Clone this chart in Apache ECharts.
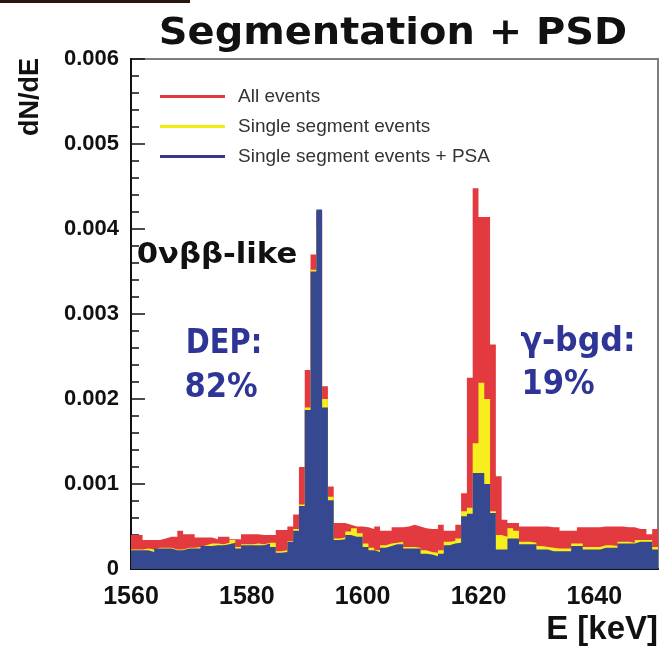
<!DOCTYPE html>
<html>
<head>
<meta charset="utf-8">
<script src="https://cdn.jsdelivr.net/npm/echarts@6/dist/echarts.min.js"></script>
<style>
html,body{margin:0;padding:0;background:#fff;}
#chart{width:663px;height:657px;}
</style>
</head>
<body>
<div id="chart"></div>
<script>
// Histogram: 1 keV bins starting at 1560 keV
const binStart = 1560;
const binWidth = 1;
const xMax = 1651;
const xTicks = [1560, 1580, 1600, 1620, 1640];

const allEvents = [
  0.00040,0.00040,0.00034,0.00034,0.00034,0.00036,0.00038,0.00038,0.00045,0.00041,
  0.00041,0.00037,0.00037,0.00037,0.00035,0.00038,0.00038,0.00035,0.00035,0.00041,
  0.00041,0.00041,0.00040,0.00040,0.00040,0.00046,0.00046,0.00050,0.00064,0.00120,
  0.00234,0.00370,0.00420,0.00215,0.00097,0.00054,0.00054,0.00052,0.00050,0.00050,
  0.00049,0.00047,0.00050,0.00045,0.00045,0.00049,0.00049,0.00050,0.00052,0.00050,
  0.00048,0.00047,0.00047,0.00052,0.00045,0.00045,0.00052,0.00089,0.00225,0.00448,
  0.00414,0.00414,0.00264,0.00109,0.00058,0.00054,0.00054,0.00050,0.00050,0.00050,
  0.00050,0.00050,0.00049,0.00049,0.00045,0.00045,0.00045,0.00049,0.00049,0.00049,
  0.00049,0.00050,0.00050,0.00050,0.00050,0.00049,0.00049,0.00047,0.00047,0.00041,
  0.00047
];
const singleSegment = [
  0.00023,0.00023,0.00024,0.00023,0.00025,0.00025,0.00025,0.00023,0.00023,0.00025,
  0.00025,0.00026,0.00028,0.00030,0.00030,0.00029,0.00031,0.00034,0.00026,0.00029,
  0.00029,0.00030,0.00029,0.00031,0.00031,0.00021,0.00022,0.00033,0.00047,0.00076,
  0.00190,0.00352,0.00400,0.00200,0.00085,0.00036,0.00037,0.00044,0.00048,0.00042,
  0.00030,0.00025,0.00022,0.00028,0.00030,0.00031,0.00032,0.00026,0.00026,0.00025,
  0.00022,0.00020,0.00019,0.00022,0.00032,0.00033,0.00036,0.00068,0.00072,0.00148,
  0.00219,0.00200,0.00068,0.00040,0.00038,0.00048,0.00045,0.00032,0.00032,0.00031,
  0.00027,0.00026,0.00025,0.00024,0.00024,0.00024,0.00030,0.00030,0.00026,0.00026,
  0.00026,0.00028,0.00028,0.00027,0.00032,0.00032,0.00031,0.00034,0.00034,0.00034,
  0.00026
];
const singleSegmentPSA = [
  0.00022,0.00022,0.00022,0.00020,0.00024,0.00024,0.00024,0.00022,0.00022,0.00024,
  0.00024,0.00024,0.00027,0.00027,0.00028,0.00028,0.00029,0.00031,0.00024,0.00028,
  0.00028,0.00028,0.00028,0.00030,0.00026,0.00019,0.00020,0.00032,0.00045,0.00074,
  0.00187,0.00350,0.00423,0.00190,0.00081,0.00034,0.00035,0.00040,0.00038,0.00038,
  0.00026,0.00022,0.00020,0.00025,0.00027,0.00029,0.00029,0.00024,0.00024,0.00024,
  0.00018,0.00017,0.00015,0.00018,0.00028,0.00030,0.00031,0.00062,0.00065,0.00113,
  0.00113,0.00100,0.00066,0.00023,0.00023,0.00036,0.00036,0.00029,0.00029,0.00029,
  0.00023,0.00023,0.00021,0.00021,0.00021,0.00021,0.00027,0.00027,0.00023,0.00023,
  0.00023,0.00025,0.00025,0.00025,0.00030,0.00030,0.00030,0.00032,0.00032,0.00032,
  0.00023
];
const seriesNames = ['All events', 'Single segment events', 'Single segment events + PSA'];
const fillColors = ['#e23a3f', '#f7ee1e', '#36488f'];
const legendColors = ['#e0383e', '#f3ee10', '#3a358c'];

function stepData(vals) {
  const d = vals.map((v, i) => [binStart + i * binWidth, v]);
  d.push([binStart + vals.length * binWidth, vals[vals.length - 1]]);
  return d;
}

const chart = echarts.init(document.getElementById('chart'), null, {renderer: 'canvas'});
const allData = [allEvents, singleSegment, singleSegmentPSA];

const option = {
  animation: false,
  backgroundColor: '#ffffff',
  grid: {left: 131, right: 5, top: 59, bottom: 88, show: true, borderColor: '#7d7d7d', borderWidth: 2, backgroundColor: 'transparent'},
  xAxis: {
    type: 'value', min: binStart, max: xMax, interval: 20,
    axisLine: {show: true, onZero: false, lineStyle: {color: '#111', width: 2}},
    axisTick: {show: false},
    splitLine: {show: false},
    axisLabel: {
      margin: 16, fontSize: 25, fontWeight: 'bold', fontFamily: 'Liberation Sans', color: '#111',
      formatter: v => (xTicks.indexOf(v) >= 0 ? String(v) : '')
    }
  },
  yAxis: {
    type: 'value', min: 0, max: 0.006, interval: 0.001,
    axisLine: {show: true, lineStyle: {color: '#111', width: 2}},
    axisTick: {show: true, inside: true, length: 14, lineStyle: {color: '#111', width: 1.5}},
    minorTick: {show: true, splitNumber: 5, length: 8, lineStyle: {color: '#111', width: 1.5}},
    splitLine: {show: false},
    axisLabel: {
      margin: 12, fontSize: 22, fontWeight: 'bold', fontFamily: 'Liberation Sans', color: '#111',
      formatter: v => (v === 0 ? '0' : v.toFixed(3))
    }
  },
  legend: {
    orient: 'vertical', left: 155, top: 82, itemWidth: 65, itemHeight: 3, itemGap: 11,
    icon: 'rect',
    textStyle: {fontFamily: 'Liberation Sans', fontSize: 19, color: '#333', padding: [0, 0, 0, 8]},
    data: seriesNames.map((n, i) => ({name: n, itemStyle: {color: legendColors[i], opacity: 1}}))
  },
  series: allData.map((vals, i) => ({
    name: seriesNames[i],
    type: 'line',
    step: 'end',
    symbol: 'none',
    data: stepData(vals),
    lineStyle: {width: 0, opacity: 0},
    itemStyle: {color: legendColors[i]},
    areaStyle: {color: fillColors[i], opacity: 1},
    z: 2 + i
  })),
  graphic: [
    {type: 'rect', shape: {x: 0, y: 0, width: 190, height: 3}, style: {fill: '#2b1510'}},
    {type: 'text', x: 393, y: 34, scaleX: 1.05, style: {text: 'Segmentation + PSD', fontSize: 38, fontWeight: 'bold', fontFamily: 'DejaVu Sans', fill: '#111', align: 'center', verticalAlign: 'middle'}},
    {type: 'text', x: 31, y: 97, rotation: Math.PI / 2, style: {text: 'dN/dE', fontSize: 27, fontWeight: 'bold', fontFamily: 'Liberation Sans', fill: '#111', align: 'center', verticalAlign: 'middle'}},
    {type: 'text', x: 658, y: 630, style: {text: 'E [keV]', fontSize: 33, fontWeight: 'bold', fontFamily: 'Liberation Sans', fill: '#111', align: 'right', verticalAlign: 'middle'}, z: 10},
    {type: 'text', x: 217, y: 255, scaleX: 1.06, style: {text: '0νββ-like', fontSize: 29, fontWeight: 'bold', fontFamily: 'DejaVu Sans', fill: '#111', align: 'center', verticalAlign: 'middle'}, z: 10},
    {type: 'text', x: 224, y: 344, scaleX: 0.85, style: {text: 'DEP:', fontSize: 34, fontWeight: 'bold', fontFamily: 'DejaVu Sans', fill: '#2f3596', align: 'center', verticalAlign: 'middle'}, z: 10},
    {type: 'text', x: 221, y: 388, scaleX: 0.9, style: {text: '82%', fontSize: 34, fontWeight: 'bold', fontFamily: 'DejaVu Sans', fill: '#2f3596', align: 'center', verticalAlign: 'middle'}, z: 10},
    {type: 'text', x: 578, y: 342, scaleX: 0.93, style: {text: 'γ-bgd:', fontSize: 34, fontWeight: 'bold', fontFamily: 'DejaVu Sans', fill: '#2f3596', align: 'center', verticalAlign: 'middle'}, z: 10},
    {type: 'text', x: 558, y: 385, scaleX: 0.9, style: {text: '19%', fontSize: 34, fontWeight: 'bold', fontFamily: 'DejaVu Sans', fill: '#2f3596', align: 'center', verticalAlign: 'middle'}, z: 10}
  ]
};
chart.setOption(option);
</script>
</body>
</html>
